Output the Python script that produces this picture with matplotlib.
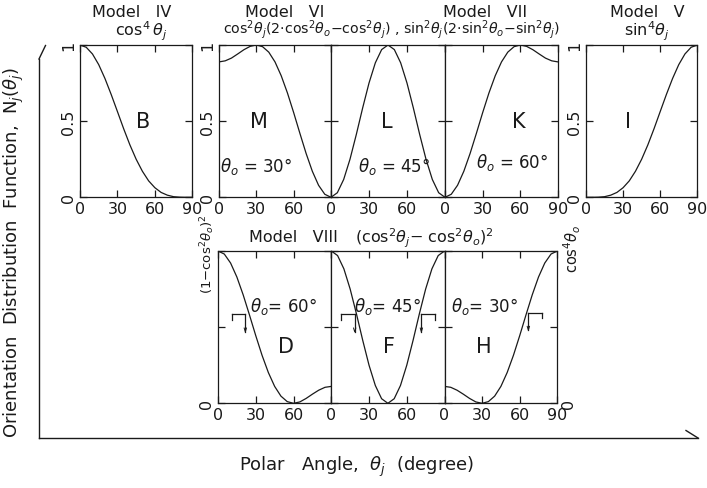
import matplotlib
matplotlib.use("Agg")
import matplotlib.pyplot as plt
from matplotlib.lines import Line2D

plt.rcParams["font.family"] = ["DejaVu Sans"]
plt.rcParams["mathtext.fontset"] = "dejavusans"

# Polar angle samples (degree)
theta = [0, 5, 10, 15, 20, 25, 30, 35, 40, 45, 50, 55, 60, 65, 70, 75, 80, 85, 90]

# Normalised orientation distribution functions N_j(theta_j)
curve_B = [1.000, 0.985, 0.941, 0.871, 0.780, 0.675, 0.563, 0.450, 0.344, 0.250,
           0.171, 0.108, 0.063, 0.032, 0.014, 0.004, 0.001, 0.000, 0.000]
curve_M = [0.889, 0.896, 0.914, 0.941, 0.969, 0.991, 1.000, 0.989, 0.953, 0.889,
           0.798, 0.685, 0.556, 0.420, 0.288, 0.171, 0.079, 0.020, 0.000]
curve_L = [0.000, 0.030, 0.117, 0.250, 0.413, 0.587, 0.750, 0.883, 0.970, 1.000,
           0.970, 0.883, 0.750, 0.587, 0.413, 0.250, 0.117, 0.030, 0.000]
curve_K = [0.000, 0.020, 0.079, 0.171, 0.288, 0.420, 0.556, 0.685, 0.798, 0.889,
           0.953, 0.989, 1.000, 0.991, 0.969, 0.941, 0.914, 0.896, 0.889]
curve_I = [0.000, 0.000, 0.001, 0.004, 0.014, 0.032, 0.063, 0.108, 0.171, 0.250,
           0.344, 0.450, 0.563, 0.675, 0.780, 0.871, 0.941, 0.985, 1.000]
curve_D = [1.000, 0.980, 0.921, 0.829, 0.712, 0.580, 0.444, 0.315, 0.202, 0.111,
           0.047, 0.011, 0.000, 0.009, 0.032, 0.060, 0.086, 0.105, 0.111]
curve_F = [1.000, 0.970, 0.883, 0.750, 0.587, 0.413, 0.250, 0.117, 0.030, 0.000,
           0.030, 0.117, 0.250, 0.413, 0.587, 0.750, 0.883, 0.970, 1.000]
curve_H = [0.111, 0.105, 0.086, 0.060, 0.032, 0.009, 0.000, 0.011, 0.047, 0.111,
           0.202, 0.315, 0.444, 0.580, 0.712, 0.829, 0.921, 0.980, 1.000]

x_ticks = [0, 30, 60, 90]
y_ticks = [0, 0.5, 1]

W, H = 707, 489
fig = plt.figure(figsize=(W / 100, H / 100), dpi=100)


def px_rect(left, top, right, bottom):
    return [left / W, 1 - bottom / H, (right - left) / W, (bottom - top) / H]


def fig_xy(x, y):
    return x / W, 1 - y / H


TICK_FS = 11.5
INK = "#1a1a1a"


def panel(rect, values, letter, letter_xy, xlabels,
          ylabels_left=None, ylabels_right=None, theta_label=None):
    ax = fig.add_axes(px_rect(*rect))
    ax.plot(theta, values, color=INK, lw=0.9)
    ax.set_xlim(0, 90)
    ax.set_ylim(0, 1)
    ax.set_xticks(x_ticks)
    ax.set_xticklabels(xlabels, fontsize=TICK_FS, color=INK)
    ax.set_yticks(y_ticks)
    for s in ax.spines.values():
        s.set_linewidth(0.9)
        s.set_color(INK)
    ax.tick_params(direction="in", length=5, width=0.9, top=True, right=True,
                   color=INK, pad=3)
    if ylabels_left is not None:
        ax.set_yticklabels(ylabels_left, fontsize=TICK_FS, rotation=90,
                           va="center", color=INK)
    elif ylabels_right is not None:
        ax.yaxis.set_ticks_position("both")
        ax.tick_params(labelleft=False, labelright=True)
        ax.set_yticklabels(ylabels_right, fontsize=TICK_FS, rotation=90,
                           va="center", color=INK)
    else:
        ax.set_yticklabels([])
    ax.text(letter_xy[0], letter_xy[1], letter, fontsize=15, ha="center",
            va="center", color=INK)
    if theta_label is not None:
        tx, ty, txt = theta_label
        ax.text(tx, ty, txt, fontsize=12, ha="center", va="center", color=INK)
    return ax


# Upper row: models IV, VI, VII, V
ax_B = panel((80, 46, 192.3, 198.3), curve_B, "B", (50.7, 0.5),
             ["0", "30", "60", "90"], ylabels_left=["0", "0.5", "1"])
ax_M = panel((219, 46, 331, 198.3), curve_M, "M", (32, 0.5),
             ["0", "30", "60", ""], ylabels_left=["0", "0.5", "1"],
             theta_label=(30, 0.207, r"$\theta_o$ = 30°"))
ax_L = panel((331, 46, 445, 198.3), curve_L, "L", (44, 0.5),
             ["0", "30", "60", ""],
             theta_label=(49.7, 0.207, r"$\theta_o$ = 45°"))
ax_K = panel((445, 46, 558, 198.3), curve_K, "K", (58.7, 0.5),
             ["0", "30", "60", "90"],
             theta_label=(53.4, 0.232, r"$\theta_o$ = 60°"))
ax_I = panel((586, 46, 697.3, 198.3), curve_I, "I", (34.2, 0.5),
             ["0", "30", "60", "90"], ylabels_left=["0", "0.5", "1"])

# Lower row: model VIII
ax_D = panel((218, 252, 331.3, 404.3), curve_D, "D", (54, 0.376),
             ["0", "30", "60", ""], ylabels_left=["0", "", ""],
             theta_label=(51.6, 0.639, r"$\theta_o$= 60°"))
ax_F = panel((331.3, 252, 444.5, 404.3), curve_F, "F", (45.6, 0.376),
             ["0", "30", "60", ""],
             theta_label=(44.7, 0.639, r"$\theta_o$= 45°"))
ax_H = panel((444.5, 252, 557.3, 404.3), curve_H, "H", (31, 0.376),
             ["0", "30", "60", "90"], ylabels_right=["0", "", ""],
             theta_label=(31.5, 0.639, r"$\theta_o$= 30°"))

# Normalisation factors written beside the top of model VIII
ax_D.text(-0.09, 0.985, r"(1$-$cos$^2\theta_o)^2$", transform=ax_D.transAxes,
          fontsize=9.5, rotation=90, ha="center", va="center", color=INK)
ax_H.text(1.135, 1.02, r"cos$^4\theta_o$", transform=ax_H.transAxes,
          fontsize=10.5, rotation=90, ha="center", va="center", color=INK)

# Bracket marks beside the curves (corner angle, level, horizontal direction)
brackets = [(ax_D, 21.7, 0.584, -1), (ax_F, 18.6, 0.584, -1),
            (ax_F, 71.6, 0.584, 1), (ax_H, 66.9, 0.595, 1)]
for ax, th, lev, d in brackets:
    far = th + d * 10.5
    ax.plot([far, th], [lev, lev], color=INK, lw=0.9)
    ax.plot([far, far], [lev, lev - 0.035], color=INK, lw=0.9)
    ax.plot([th, th], [lev, lev - 0.115], color=INK, lw=0.9)
    ax.plot([th - 0.9, th, th + 0.9], [lev - 0.09, lev - 0.115, lev - 0.09],
            color=INK, lw=0.7)


# Titles
def ftext(x, y, s, size=11.5, **kw):
    fx, fy = fig_xy(x, y)
    fig.text(fx, fy, s, fontsize=size, ha="center", va="center", color=INK, **kw)


ftext(131.6, 12.5, "Model   IV")
ftext(141, 31, r"cos$^4\,\theta_j$")
ftext(285, 12.5, "Model   VI")
ftext(391.5, 30, r"cos$^2\theta_j$(2$\cdot$cos$^2\theta_o$$-$cos$^2\theta_j$) , "
                 r"sin$^2\theta_j$(2$\cdot$sin$^2\theta_o$$-$sin$^2\theta_j$)",
      size=10.2)
ftext(485, 12.5, "Model   VII")
ftext(647.5, 12.5, "Model   V")
ftext(646.5, 31, r"sin$^4\theta_j$")
ftext(293, 238, "Model   VIII")
ftext(424.5, 238, r"(cos$^2\theta_j$$-$ cos$^2\theta_o)^2$")

# Axis titles
ftext(14, 252, r"Orientation  Distribution  Function,  N$_j$($\theta_j$)",
      size=13, rotation=90)
ftext(357, 467, r"Polar   Angle,  $\theta_j$  (degree)", size=13)

# Outer frame lines with half arrow heads
frame = [((39, 439), (39, 60)), ((39, 60), (45.5, 46.5)),
         ((39, 439), (698, 439)), ((686, 431.5), (698, 439))]
for (x0, y0), (x1, y1) in frame:
    a, b = fig_xy(x0, y0)
    c, d = fig_xy(x1, y1)
    fig.add_artist(Line2D([a, c], [b, d], transform=fig.transFigure,
                          color=INK, lw=1.0))

fig.savefig("out.png", dpi=100, facecolor="white")
